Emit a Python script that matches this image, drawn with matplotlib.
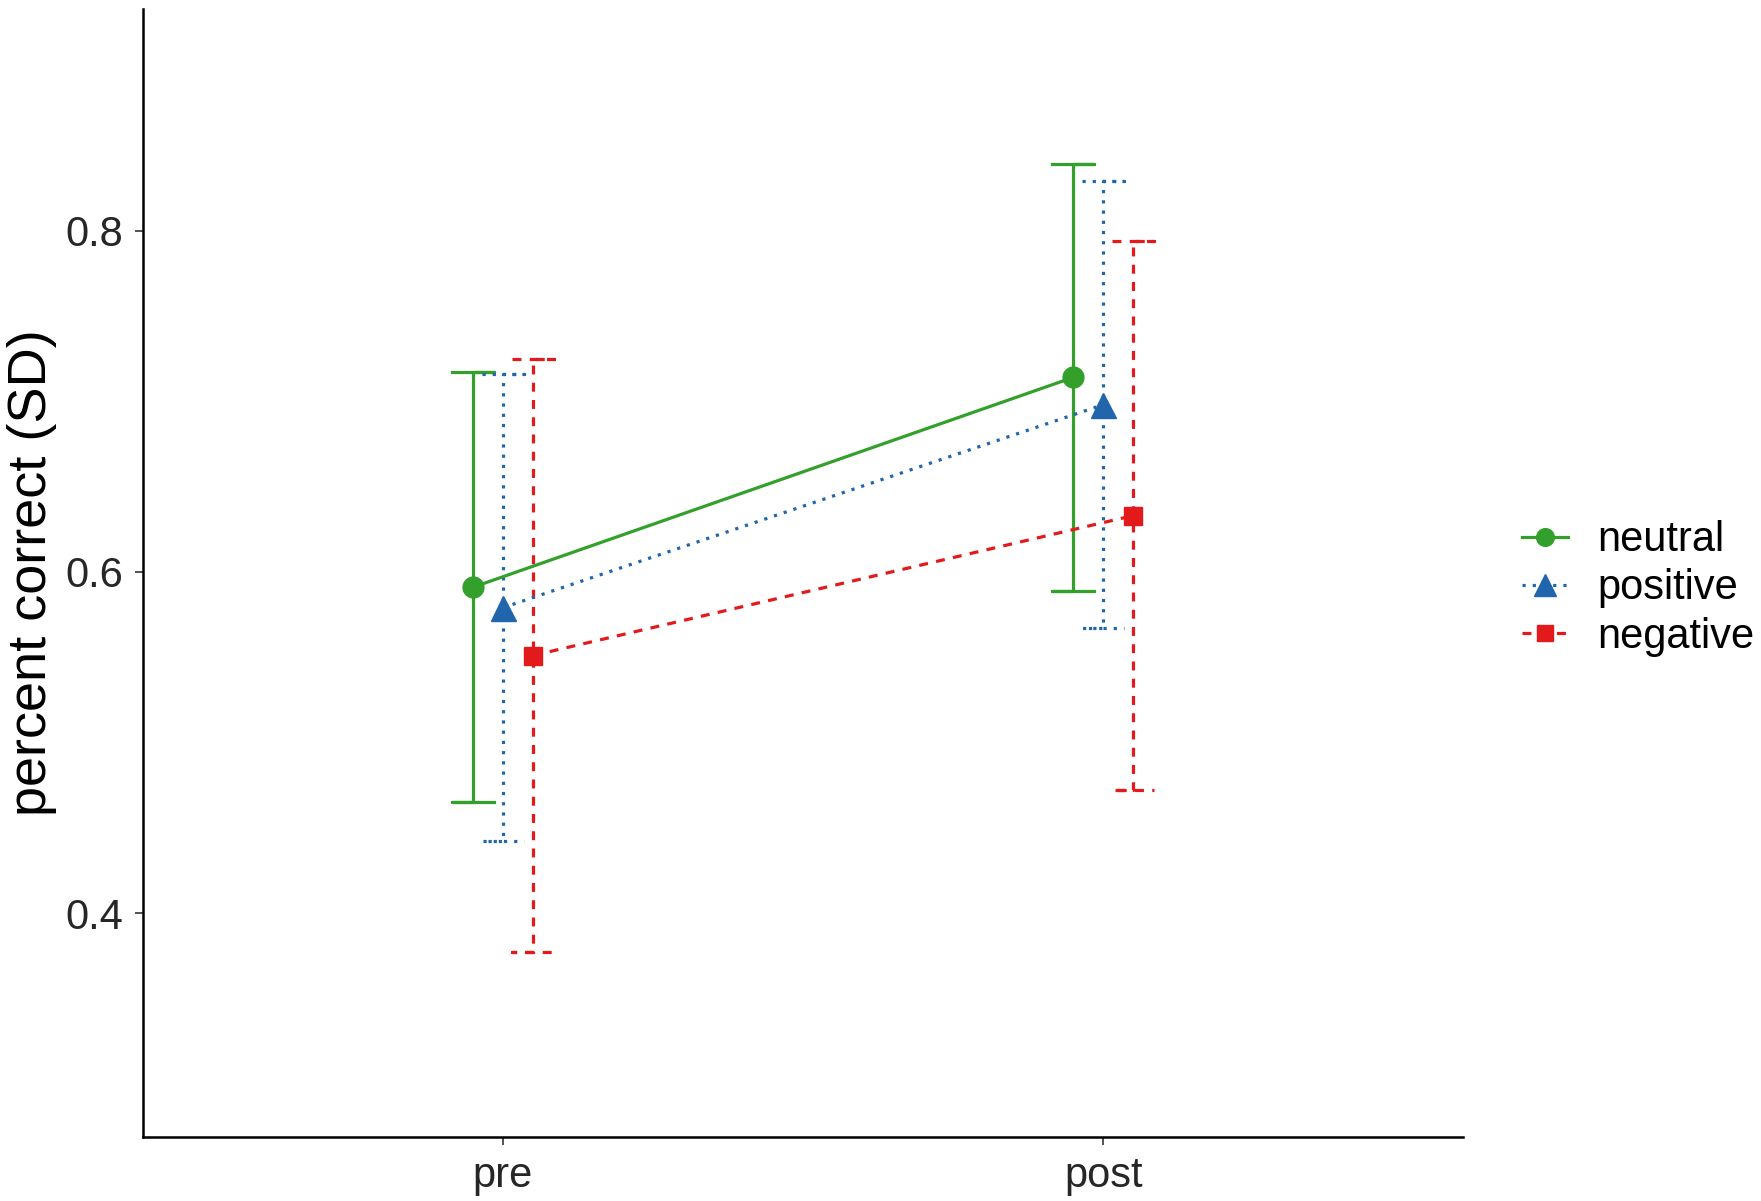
import matplotlib.pyplot as plt
import numpy as np

plt.rcParams["font.family"] = ["Liberation Sans", "DejaVu Sans"]

# Data
times = ["pre", "post"]
groups = ["neutral", "positive", "negative"]
means_neutral = [0.591, 0.714]
means_positive = [0.579, 0.698]
means_negative = [0.551, 0.633]
sd_neutral = [0.126, 0.125]
sd_positive = [0.137, 0.131]
sd_negative = [0.174, 0.161]

means = [means_neutral, means_positive, means_negative]
sds = [sd_neutral, sd_positive, sd_negative]
colors = ["#33A02C", "#2166AC", "#E31A1C"]
markers = ["o", "^", "s"]
msizes = [15, 18, 13]
dashes = [None, (1.0, 2.2), (2.8, 2.6)]
offsets = [-0.05, 0.0, 0.05]
cap_half = 0.035
lw = 2.3

fig = plt.figure(figsize=(17.61, 12.01), dpi=100)
ax = fig.add_axes([0.081, 0.0536, 0.75, 0.939])

x_base = np.arange(1, len(times) + 1)
handles = []
for g, name in enumerate(groups):
    xs = x_base + offsets[g]
    m = np.array(means[g])
    s = np.array(sds[g])
    ls_kw = {"linestyle": "-"} if dashes[g] is None else {"dashes": dashes[g]}
    # error bars drawn as ggplot-style paths so the caps share the linetype
    for xi, mi, si in zip(xs, m, s):
        px = [xi - cap_half, xi + cap_half, xi, xi, xi - cap_half, xi + cap_half]
        py = [mi + si, mi + si, mi + si, mi - si, mi - si, mi - si]
        ax.plot(px, py, color=colors[g], lw=lw, **ls_kw)
    ax.plot(xs, m, color=colors[g], lw=lw, **ls_kw, zorder=3)
    ax.plot(xs, m, marker=markers[g], ms=msizes[g], color=colors[g],
            linestyle="none", zorder=4)
    h, = ax.plot([], [], color=colors[g], lw=lw, marker=markers[g],
                 ms=msizes[g] * 0.85, **ls_kw)
    handles.append(h)

ax.set_xlim(0.4, 2.6)
ax.set_ylim(0.269, 0.93)
ax.set_xticks(x_base)
ax.set_xticklabels(times)
ax.set_yticks([0.4, 0.6, 0.8])
ax.set_yticklabels(["0.4", "0.6", "0.8"])

for side in ["top", "right"]:
    ax.spines[side].set_visible(False)
for side in ["left", "bottom"]:
    ax.spines[side].set_linewidth(1.8)
    ax.spines[side].set_color("black")

ax.tick_params(axis="both", labelsize=30, labelcolor="#262626", length=6,
               width=1.2, color="#333333", pad=8)
ax.set_ylabel("percent correct (SD)", fontsize=39, labelpad=6)

fig.legend(handles, groups, loc="center left", bbox_to_anchor=(0.855, 0.51),
           frameon=False, fontsize=30, handlelength=1.1, handletextpad=0.7,
           labelspacing=0.2, borderaxespad=0)

fig.savefig("out.png", dpi=100, facecolor="white")
